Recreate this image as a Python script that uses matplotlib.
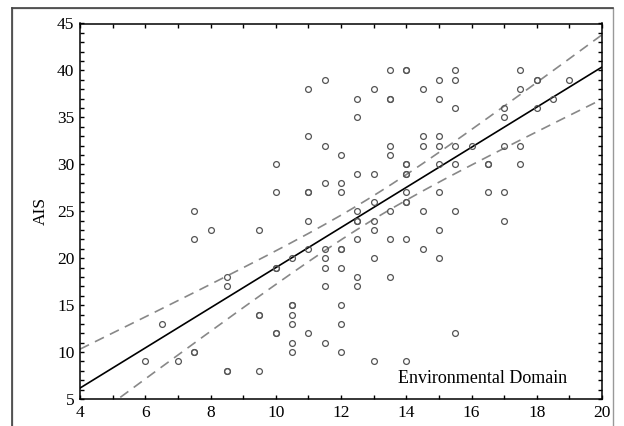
import numpy as np
import matplotlib
matplotlib.use("Agg")
from matplotlib import pyplot as plt
from matplotlib.patches import Rectangle
from matplotlib.ticker import MultipleLocator

# domain score columns and the AIS scores observed at each
# (repeated values are cases that share the same score pair)
env_levels = [6, 6.5, 7, 7.5, 8, 8.5, 9.5, 10, 10.5, 11, 11.5, 12, 12.5,
              13, 13.5, 14, 14.5, 15, 15.5, 16, 16.5, 17, 17.5, 18, 18.5, 19]
ais_scores = [
    [9],
    [13],
    [9],
    [25, 22, 10, 10],
    [23],
    [18, 17, 8, 8],
    [23, 14, 14, 8],
    [30, 27, 19, 19, 12, 12],
    [20, 15, 15, 14, 13, 11, 10],
    [38, 33, 27, 27, 24, 21, 12],
    [39, 32, 28, 21, 20, 19, 17, 11],
    [31, 28, 27, 21, 21, 19, 15, 13, 10],
    [37, 35, 29, 25, 24, 24, 22, 18, 17],
    [38, 29, 26, 24, 23, 20, 9],
    [40, 37, 37, 32, 31, 25, 22, 18],
    [40, 40, 30, 30, 29, 29, 27, 26, 26, 22, 9],
    [38, 33, 32, 25, 21],
    [39, 37, 33, 32, 30, 27, 23, 20],
    [40, 39, 36, 32, 30, 25, 12],
    [32],
    [30, 30, 27],
    [36, 35, 32, 27, 24],
    [40, 38, 32, 30],
    [39, 39, 36],
    [37],
    [39],
]

x = np.array([lv for lv, ys in zip(env_levels, ais_scores) for _ in ys], float)
y = np.array([v for ys in ais_scores for v in ys], float)

# least squares line with 95% confidence band for the mean
slope, icpt = np.polyfit(x, y, 1)
n = len(x)
resid = y - (slope * x + icpt)
s = np.sqrt(np.sum(resid ** 2) / (n - 2))
sxx = np.sum((x - x.mean()) ** 2)
t_crit = 1.98
xs = np.linspace(4, 20, 200)
fit = slope * xs + icpt
half = t_crit * s * np.sqrt(1 / n + (xs - x.mean()) ** 2 / sxx)

plt.rcParams['font.family'] = ['Liberation Serif', 'DejaVu Serif']

fig = plt.figure(figsize=(6.24, 4.26), dpi=100)
fig.patches.append(Rectangle((12 / 624, -0.1), 601 / 624, 1.1 - 8 / 426,
                             transform=fig.transFigure, fill=False,
                             edgecolor='#999999', linewidth=1.0))
fig.add_artist(plt.Line2D([12 / 624, 613 / 624], [1 - 8 / 426, 1 - 8 / 426],
                          transform=fig.transFigure, color='#444444', lw=1.2))
fig.add_artist(plt.Line2D([12 / 624, 12 / 624], [0, 1 - 8 / 426],
                          transform=fig.transFigure, color='#444444', lw=1.2))

ax = fig.add_axes([80 / 624, 1 - 399 / 426, 522 / 624, 375.5 / 426])
ax.plot(x, y, 'o', ms=4.2, mfc='none', mec='#555555', mew=0.9, zorder=3)
ax.plot(xs, fit, color='black', lw=1.2, zorder=2)
ax.plot(xs, fit + half, color='#888888', lw=1.2, dashes=(6, 4), zorder=2)
ax.plot(xs, fit - half, color='#888888', lw=1.2, dashes=(6, 4), zorder=2)

ax.set_xlim(4, 20)
ax.set_ylim(5, 45)
ax.xaxis.set_major_locator(MultipleLocator(2))
ax.xaxis.set_minor_locator(MultipleLocator(1))
ax.yaxis.set_major_locator(MultipleLocator(5))
ax.yaxis.set_minor_locator(MultipleLocator(1))
ax.tick_params(which='both', direction='in', top=True, right=True,
               length=3, width=1, labelsize=12.5, pad=4)
for sp in ax.spines.values():
    sp.set_linewidth(1.1)

ax.set_ylabel('AIS', fontsize=12.5, labelpad=6)
ax.text(16.35, 7.2, 'Environmental Domain', fontsize=13, ha='center', va='center')

fig.savefig('out.png', dpi=100)
